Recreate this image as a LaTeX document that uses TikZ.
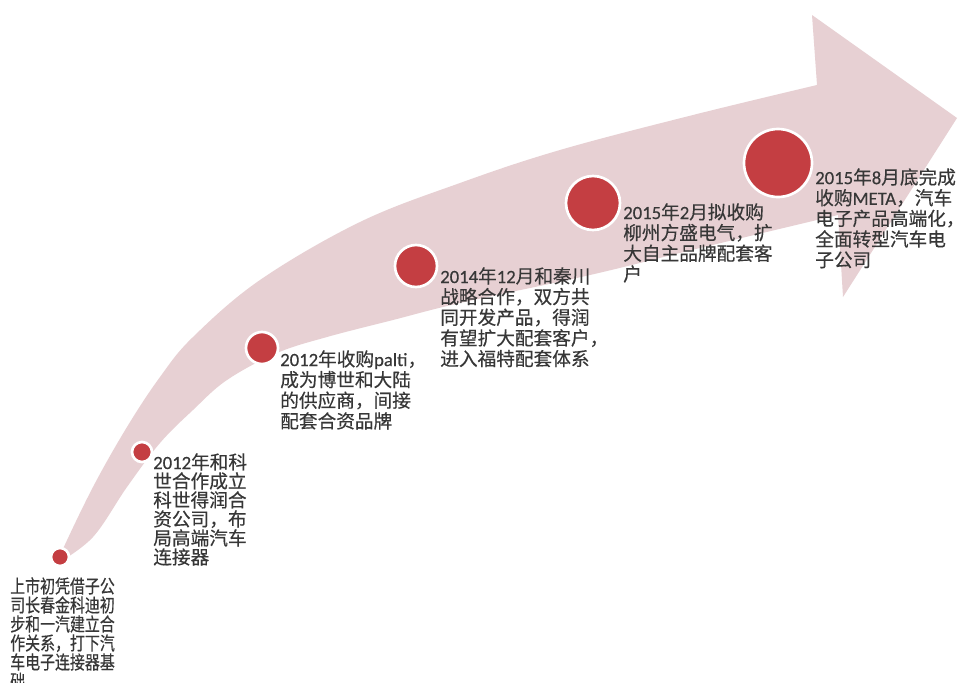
\documentclass[tikz,border=0pt]{standalone}
\usepackage{fontspec}
\setmainfont{Noto Sans CJK SC}
\newfontfamily\cjk[FakeBold=0.4]{Noto Sans CJK SC}
\newfontfamily\cjknarrow[FakeStretch=0.8,FakeBold=0.4]{Noto Sans CJK SC}
\newfontfamily\latf[FakeBold=0.4]{Carlito}
\newcommand\lw[1]{{\latf #1}}
\definecolor{bandc}{RGB}{231,208,211}
\definecolor{dotred}{RGB}{196,62,66}
\definecolor{txtc}{RGB}{55,55,55}
\tikzset{
  bandfill/.style={fill=bandc},
  dot/.style={circle, fill=dotred, draw=white, line width=2pt, inner sep=0pt, minimum size=#1*1.5pt},
  label/.style={anchor=north west, inner sep=0pt, align=left, text=txtc, font=\cjk\fontsize{14}{15.5}\selectfont},
  labeltight/.style={label, font=\cjk\fontsize{14}{14.25}\selectfont},
  labelnarrow/.style={label, font=\cjknarrow\fontsize{14}{14.25}\selectfont}
}
\begin{document}
\begin{tikzpicture}[x=0.75pt, y=-0.75pt]
\fill[white] (0,0) rectangle (960,682);
\useasboundingbox (0,0) rectangle (960,682);
% curved arrow band
\fill[bandfill]
  plot[smooth, tension=0.6] coordinates {(58,563) (62,551) (93,487) (127,427) (160,377) (193,337) (260,280) (360,222) (460,183) (560,150) (693,115) (817,85)}
  -- (812,15) -- (957,118) -- (843,297) -- (838,215)
  -- plot[smooth, tension=0.6] coordinates {(838,215) (700,248) (590,275) (460,303) (393,320) (327,337) (277,353) (227,380) (193,410) (160,443) (127,487) (93,537) (58,563)}
  -- cycle;
% milestones
\node[dot=9]  (c1) at (60,557) {};
\node[dot=10] (c2) at (142,452) {};
\node[dot=16] (c3) at (262,348) {};
\node[dot=21] (c4) at (416,266) {};
\node[dot=27] (c5) at (593,203) {};
\node[dot=34] (c6) at (778,163) {};
% labels
\node[labelnarrow] (t1) at (10,577) {上市初凭借子公\\司长春金科迪初\\步和一汽建立合\\作关系，打下汽\\车电子连接器基\\础};
\node[labeltight] (t2) at (153,453) {\lw{2012}年和科\\世合作成立\\科世得润合\\资公司，布\\局高端汽车\\连接器};
\node[label] (t3) at (280,350) {\lw{2012}年收购\lw{palti}，\\成为博世和大陆\\的供应商，间接\\配套合资品牌};
\node[label] (t4) at (440,267) {\lw{2014}年\lw{12}月和秦川\\战略合作，双方共\\同开发产品，得润\\有望扩大配套客户，\\进入福特配套体系};
\node[label] (t5) at (623,203) {\lw{2015}年\lw{2}月拟收购\\柳州方盛电气，扩\\大自主品牌配套客\\户};
\node[label] (t6) at (815,168) {\lw{2015}年\lw{8}月底完成\\收购\lw{META}，汽车\\电子产品高端化，\\全面转型汽车电\\子公司};
\end{tikzpicture}
\end{document}
